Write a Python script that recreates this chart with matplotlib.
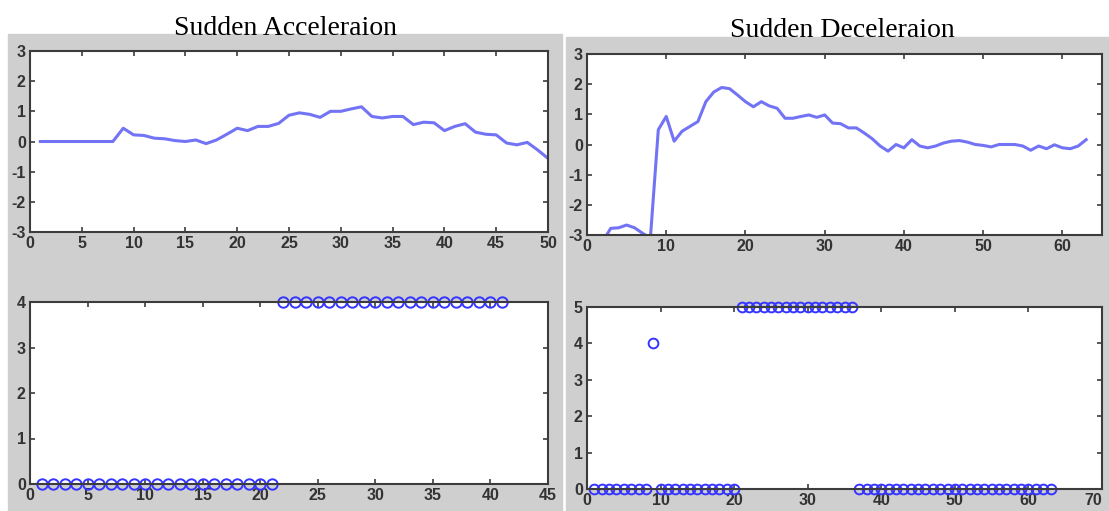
import matplotlib
matplotlib.use("Agg")
import matplotlib.pyplot as plt
from matplotlib.patches import Rectangle
import numpy as np

plt.rcParams["axes.unicode_minus"] = False

# ---- DATOS ----
acc_x = list(range(1, 51))
acc_y = [0, 0, 0, 0, 0, 0, 0, 0, 0.44, 0.22,
         0.20, 0.11, 0.09, 0.03, 0.0, 0.05, -0.07, 0.05, 0.24, 0.44,
         0.36, 0.50, 0.50, 0.60, 0.87, 0.95, 0.90, 0.80, 1.00, 1.00,
         1.08, 1.15, 0.83, 0.78, 0.83, 0.83, 0.56, 0.64, 0.62, 0.36,
         0.50, 0.59, 0.31, 0.24, 0.22, -0.05, -0.11, -0.03, -0.28, -0.56]

dec_x = list(range(1, 64))
dec_y = [-3.5, -3.2, -2.78, -2.76, -2.67, -2.76, -2.94, -3.1, 0.49, 0.93,
         0.11, 0.44, 0.60, 0.76, 1.42, 1.74, 1.89, 1.85, 1.64, 1.42,
         1.25, 1.42, 1.28, 1.20, 0.87, 0.87, 0.93, 0.98, 0.90, 0.98,
         0.71, 0.69, 0.55, 0.55, 0.38, 0.19, -0.05, -0.22, 0.0, -0.11,
         0.16, -0.05, -0.11, -0.05, 0.05, 0.11, 0.13, 0.08, 0.0, -0.03,
         -0.08, 0.0, 0.0, 0.0, -0.05, -0.19, -0.05, -0.14, -0.01, -0.11,
         -0.14, -0.05, 0.16]

acc_cls_x = list(range(1, 42))
acc_cls = [0] * 21 + [4] * 20

dec_cls_x = list(range(1, 64))
dec_cls = [0] * 8 + [4] + [0] * 11 + [5] * 16 + [0] * 27

titulos = ["Sudden Acceleraion", "Sudden Deceleraion"]

# ---- CONFIGURACION ----
W, H = 1109, 511
GRIS = "#cfcfcf"
LINEA = "#7373f5"
MARCA = "#3535ff"
EJE = "#3c3c3c"

fig = plt.figure(figsize=(W / 100, H / 100), dpi=100)
fig.patch.set_facecolor("white")


def caja(x0, y0, x1, y1):
    # pixeles (origen arriba a la izquierda) -> coordenadas de figura
    return [x0 / W, 1 - y1 / H, (x1 - x0) / W, (y1 - y0) / H]


# fondos grises tipo ventana de MATLAB
fig.patches.append(Rectangle((8 / W, 0), (562 - 8) / W, 1 - 34 / H,
                             transform=fig.transFigure, color=GRIS, zorder=-10))
fig.patches.append(Rectangle((566 / W, 0), (W - 566) / W, 1 - 37 / H,
                             transform=fig.transFigure, color=GRIS, zorder=-10))

fig.text(286 / W, 1 - 35 / H, titulos[0], ha="center", va="baseline",
         fontsize=20, family="Liberation Serif")
fig.text(842 / W, 1 - 37 / H, titulos[1], ha="center", va="baseline",
         fontsize=20, family="Liberation Serif")


def estilo(ax, xlim, ylim, xticks, yticks):
    ax.set_xlim(*xlim)
    ax.set_ylim(*ylim)
    ax.set_xticks(xticks)
    ax.set_yticks(yticks)
    ax.set_facecolor("white")
    for s in ax.spines.values():
        s.set_color(EJE)
        s.set_linewidth(1.5)
    ax.tick_params(direction="in", length=3.5, width=1.2, color=EJE,
                   top=True, right=True, labelsize=11.5, labelcolor="#333333")
    ax.tick_params(axis="x", pad=3)
    ax.tick_params(axis="y", pad=3)
    for lbl in ax.get_xticklabels() + ax.get_yticklabels():
        lbl.set_family("Liberation Sans")
        lbl.set_fontweight("bold")


ax1 = fig.add_axes(caja(30, 51, 548, 232))
ax1.plot(acc_x, acc_y, color=LINEA, linewidth=2.2, solid_joinstyle="round")
estilo(ax1, (0, 50), (-3, 3), range(0, 51, 5), range(-3, 4))

ax2 = fig.add_axes(caja(587, 54, 1102, 235))
ax2.plot(dec_x, dec_y, color=LINEA, linewidth=2.2, solid_joinstyle="round")
estilo(ax2, (0, 65), (-3, 3), range(0, 61, 10), range(-3, 4))

ax3 = fig.add_axes(caja(30, 302, 548, 484))
ax3.plot(acc_cls_x, acc_cls, "o", markersize=7.5, markerfacecolor="none",
         markeredgecolor=MARCA, markeredgewidth=1.4, clip_on=False)
estilo(ax3, (0, 45), (0, 4), range(0, 46, 5), range(0, 5))

ax4 = fig.add_axes(caja(587, 307, 1102, 489))
ax4.plot(dec_cls_x, dec_cls, "o", markersize=7, markerfacecolor="none",
         markeredgecolor=MARCA, markeredgewidth=1.4, clip_on=False)
estilo(ax4, (0, 70), (0, 5), range(0, 71, 10), range(0, 6))
# la etiqueta 70 queda justo en el borde, como en la captura
ax4.get_xticklabels()[-1].set_horizontalalignment("right")

fig.savefig("out.png", dpi=100)
